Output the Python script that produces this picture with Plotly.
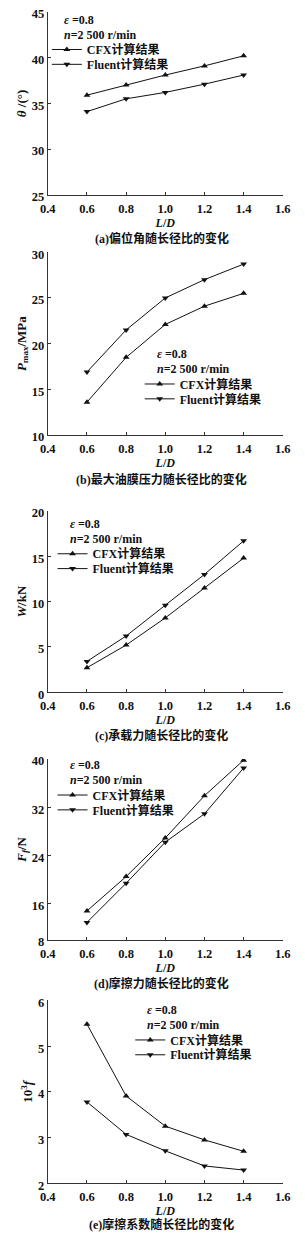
import plotly.graph_objects as go

# ---------------- data ----------------
LD = [0.6, 0.8, 1.0, 1.2, 1.4]
x_ticks = [0.4, 0.6, 0.8, 1.0, 1.2, 1.4, 1.6]
x_ticktext = ["0.4", "0.6", "0.8", "1.0", "1.2", "1.4", "1.6"]

theta_cfx = [35.9, 37.0, 38.1, 39.1, 40.2]
theta_fluent = [34.1, 35.5, 36.2, 37.1, 38.1]
pmax_cfx = [13.6, 18.5, 22.1, 24.1, 25.5]
pmax_fluent = [16.9, 21.5, 25.0, 27.0, 28.7]
w_cfx = [2.7, 5.2, 8.2, 11.5, 14.8]
w_fluent = [3.4, 6.2, 9.6, 13.0, 16.7]
ff_cfx = [14.8, 20.5, 26.9, 33.9, 39.8]
ff_fluent = [12.9, 19.4, 26.2, 30.9, 38.5]
f_cfx = [5.48, 3.91, 3.25, 2.95, 2.70]
f_fluent = [3.78, 3.07, 2.71, 2.38, 2.29]

series_names = ["CFX计算结果", "Fluent计算结果"]
cond_text = ["<i>ε</i> =0.8", "<i>n</i>=2 500 r/min"]

y_titles = ["<i>θ</i> /(°)", "<i>P</i><sub>max</sub>/MPa", "<i>W</i>/kN",
            "<i>F</i><sub><i>f</i></sub>/N", "10<sup>3</sup><i>f</i>"]
captions = ["(a)偏位角随长径比的变化", "(b)最大油膜压力随长径比的变化",
            "(c)承载力随长径比的变化", "(d)摩擦力随长径比的变化",
            "(e)摩擦系数随长径比的变化"]
y_ranges = [[25, 45], [10, 30], [0, 20], [10, 40], [2, 6]]
y_tickvals = [[25, 30, 35, 40, 45], [10, 15, 20, 25, 30], [0, 5, 10, 15, 20],
              [10, 16, 24, 32, 40], [2, 3, 4, 5, 6]]
y_ticktext = [["25", "30", "35", "40", "45"], ["10", "15", "20", "25", "30"],
              ["0", "5", "10", "15", "20"], ["8", "16", "24", "32", "40"],
              ["2", "3", "4", "5", "6"]]
data_cfx = [theta_cfx, pmax_cfx, w_cfx, ff_cfx, f_cfx]
data_fluent = [theta_fluent, pmax_fluent, w_fluent, ff_fluent, f_fluent]

# ---------------- layout (pixel geometry) ----------------
H = 1247.0
W = 305.0
plot_px = [(7, 192), (250, 435), (511.7, 695), (762.5, 945.5), (1006.7, 1191.7)]
x_px = (42, 290)
caption_px = [236, 480, 739, 990, 1233]
legend_left = [57, 155, 63, 63, 145]
eps_y = [15, 353.3, 525, 769, 1016.7]
line_gap = 15.0

def py(v):
    return 1 - v / H

def px(v):
    return v / W

FONT = "Liberation Serif, Times New Roman, Noto Sans CJK SC, serif"
CJK = "Liberation Serif, Noto Sans CJK SC, serif"

fig = go.Figure()
layout = dict(
    width=305, height=1247, margin=dict(l=0, r=0, t=0, b=0),
    paper_bgcolor="white", plot_bgcolor="white",
    font=dict(family=FONT, size=12, color="#111"),
    annotations=[],
)

leg_idx = 0
for i in range(5):
    ax = "" if i == 0 else str(i + 1)
    for k, (name, vals, sym) in enumerate([
            (series_names[0], data_cfx[i], "triangle-up"),
            (series_names[1], data_fluent[i], "triangle-down")]):
        leg_idx += 1
        leg = "legend" if leg_idx == 1 else f"legend{leg_idx}"
        fig.add_trace(go.Scatter(
            x=LD, y=vals, name=name, mode="lines+markers",
            line=dict(color="#111", width=1),
            marker=dict(symbol=sym, size=6, color="#111"),
            xaxis="x" + ax, yaxis="y" + ax, legend=leg, showlegend=True,
        ))
        layout[leg] = dict(
            x=px(legend_left[i] - 16), xanchor="left",
            y=py(eps_y[i] + (2 + k) * line_gap), yanchor="middle",
            bgcolor="rgba(0,0,0,0)", borderwidth=0, itemwidth=30,
            font=dict(family=CJK, size=12, weight="bold", color="#111"),
            itemclick=False, itemdoubleclick=False,
        )
    top, bot = plot_px[i]
    layout["xaxis" + ax] = dict(
        domain=[px(x_px[0]), px(x_px[1])], anchor="y" + ax,
        range=[0.4, 1.6], tickvals=x_ticks, ticktext=x_ticktext,
        ticks="inside", ticklen=3, tickcolor="#333", showline=True,
        linecolor="#333", linewidth=1, showgrid=False, zeroline=False,
        ticklabelstandoff=2,
        tickfont=dict(family=FONT, size=12.5, weight="bold", color="#111"),
        title=dict(text="<i>L</i>/<i>D</i>", standoff=0,
                   font=dict(family=FONT, size=12, weight="bold")),
    )
    layout["yaxis" + ax] = dict(
        domain=[py(bot), py(top)], anchor="x" + ax,
        range=y_ranges[i], tickvals=y_tickvals[i], ticktext=y_ticktext[i],
        ticks="inside", ticklen=3, tickcolor="#333", showline=True,
        linecolor="#333", linewidth=1, showgrid=False, zeroline=False,
        ticklabelshift=2,
        tickfont=dict(family=FONT, size=12.5, weight="bold", color="#111"),
        title=dict(text=y_titles[i], standoff=2,
                   font=dict(family=FONT, size=13, weight="bold")),
    )
    for k, t in enumerate(cond_text):
        layout["annotations"].append(dict(
            text=t, xref="paper", yref="paper", x=px(legend_left[i]),
            y=py(eps_y[i] + k * line_gap), xanchor="left", yanchor="middle",
            showarrow=False, font=dict(family=FONT, size=12, weight="bold", color="#111"),
        ))
    layout["annotations"].append(dict(
        text=captions[i], xref="paper", yref="paper", x=px(162),
        y=py(caption_px[i]), xanchor="center", yanchor="middle",
        showarrow=False, font=dict(family=CJK, size=12, weight="bold", color="#111"),
    ))

fig.update_layout(**layout)
fig.write_html("out.html")
